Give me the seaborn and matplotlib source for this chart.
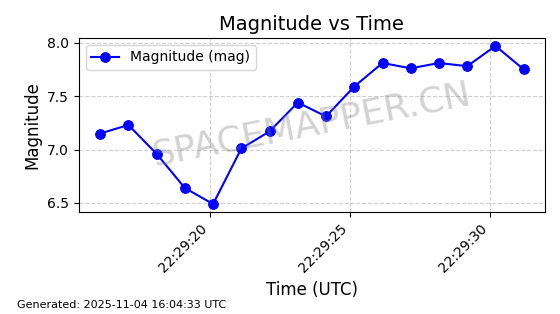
import matplotlib
matplotlib.use("Agg")
import matplotlib.pyplot as plt
import matplotlib.dates as mdates
import seaborn as sns
import pandas as pd
import numpy as np

times = ["22:29:16.07", "22:29:17.08", "22:29:18.09", "22:29:19.10", "22:29:20.11",
         "22:29:21.12", "22:29:22.13", "22:29:23.14", "22:29:24.15", "22:29:25.16",
         "22:29:26.17", "22:29:27.18", "22:29:28.19", "22:29:29.20", "22:29:30.21",
         "22:29:31.22"]
magnitudes = [7.15, 7.23, 6.96, 6.64, 6.49, 7.01, 7.17, 7.44, 7.31, 7.59,
              7.81, 7.76, 7.81, 7.78, 7.97, 7.75]

df = pd.DataFrame({
    "time": pd.to_datetime(["2025-11-04 " + t for t in times]),
    "mag": magnitudes,
})

plt.rcParams['font.family'] = ['DejaVu Sans']

fig, ax = plt.subplots(figsize=(5.6, 3.14), dpi=100)
sns.lineplot(data=df, x="time", y="mag", ax=ax, color="blue", marker="o",
             markersize=7, markeredgecolor="blue", linewidth=1.5,
             label="Magnitude (mag)")

ax.set_title("Magnitude vs Time", fontsize=14)
ax.set_xlabel("Time (UTC)", fontsize=12)
ax.set_ylabel("Magnitude", fontsize=12)
ax.xaxis.set_major_locator(mdates.SecondLocator(bysecond=range(0, 60, 5)))
ax.xaxis.set_major_formatter(mdates.DateFormatter("%H:%M:%S"))
ax.set_yticks([6.5, 7.0, 7.5, 8.0])
plt.setp(ax.get_xticklabels(), rotation=45, ha="right")
ax.grid(True, linestyle="--", alpha=0.6)
ax.legend(loc="upper left", fontsize=10)

ax.text(0.5, 0.5, "SPACEMAPPER.CN", transform=ax.transAxes, fontsize=26,
        color="gray", alpha=0.35, rotation=11, ha="center", va="center")

fig.subplots_adjust(left=0.141, right=0.973, top=0.879, bottom=0.325)
fig.text(0.03, 0.02, "Generated: 2025-11-04 16:04:33 UTC", fontsize=8)

fig.savefig("out.png", dpi=100)
